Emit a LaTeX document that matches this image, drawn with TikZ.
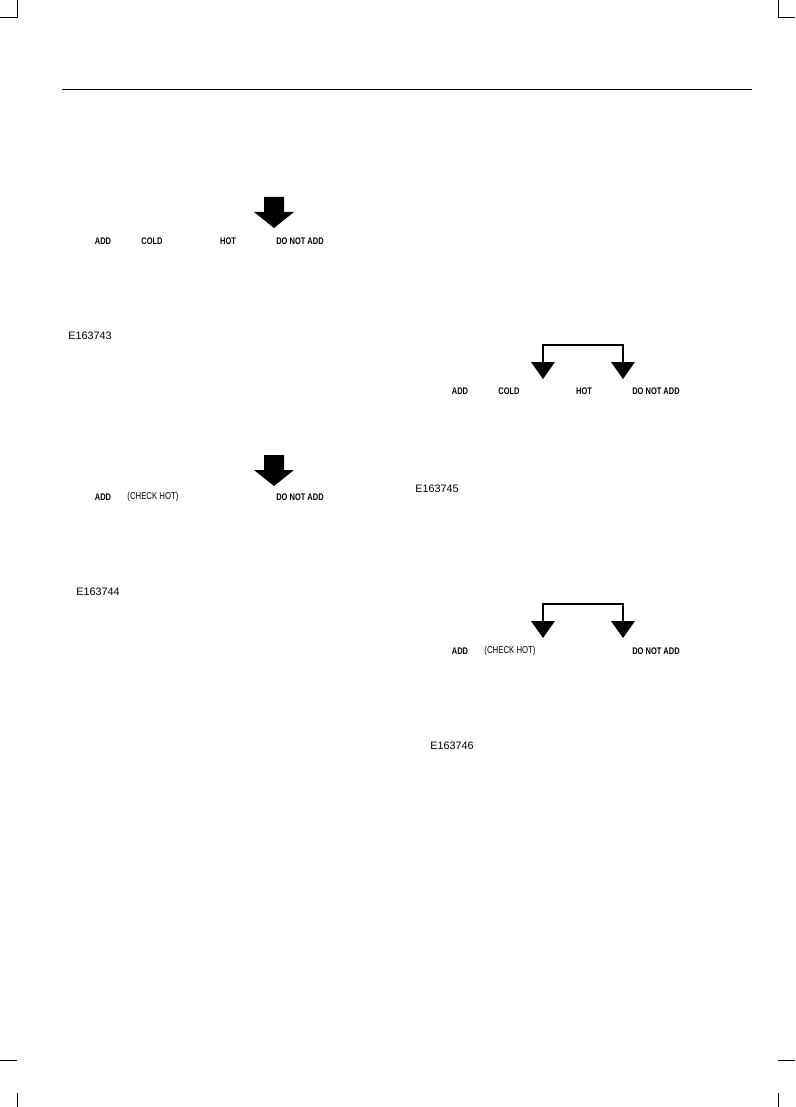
\documentclass[tikz,border=0pt]{standalone}
\usepackage{fontspec}
\setmainfont{Liberation Sans}
\newfontfamily\cond[FakeStretch=0.78]{Liberation Sans}
\tikzset{
  lbl/.style={font=\cond\bfseries\fontsize{9.6}{11}\selectfont, inner sep=0pt},
  thin lbl/.style={font=\cond\fontsize{10}{11}\selectfont, inner sep=0pt},
  code/.style={font=\fontsize{10.8}{12}\selectfont, inner sep=0pt},
  bigarrow/.style={fill=black},
  bracket/.style={line width=2.4pt},
  crop/.style={line width=0.8pt}
}
\begin{document}
\begin{tikzpicture}[x=1pt,y=-1pt]
    \useasboundingbox (0,0) rectangle (795,1107);
    % crop marks and header rule
    \draw[crop] (0,17) -- (17,17) -- (17,0);
    \draw[crop] (778,0) -- (778,17) -- (795,17);
    \draw[crop] (0,1060) -- (17,1060);
    \draw[crop] (17,1093) -- (17,1107);
    \draw[crop] (778,1060) -- (795,1060);
    \draw[crop] (778,1093) -- (778,1107);
    \draw[line width=0.8pt] (62,89) -- (752,89);
    % first picture
    \node[lbl] (add1) at (103,241) {ADD};
    \node[lbl] (cold1) at (152,241) {COLD};
    \node[lbl] (hot1) at (228,241) {HOT};
    \node[lbl] (dna1) at (300,241) {DO NOT ADD};
    \fill[bigarrow] (264,197) -- (284,197) -- (284,212) -- (294,212)
        -- (274,228) -- (254,212) -- (264,212) -- cycle;
    \node[code] (e1) at (90,336) {E163743};
    % second picture
    \node[lbl] (add2) at (103,497) {ADD};
    \node[thin lbl] (chk2) at (153,497) {(CHECK HOT)};
    \node[lbl] (dna2) at (300,497) {DO NOT ADD};
    \fill[bigarrow] (264,455) -- (284,455) -- (284,470) -- (294,470)
        -- (274,486) -- (254,470) -- (264,470) -- cycle;
    \node[code] (e2) at (98,592) {E163744};
    % third picture
    \node[lbl] (add3) at (460,391) {ADD};
    \node[lbl] (cold3) at (509,391) {COLD};
    \node[lbl] (hot3) at (584,391) {HOT};
    \node[lbl] (dna3) at (656,391) {DO NOT ADD};
    \draw[bracket] (543,363) -- (543,345) -- (623,345) -- (623,363);
    \foreach \x in {543,623}
        \fill (\x-12,362) -- (\x+12,362) -- (\x,379) -- cycle;
    \node[code] (e3) at (437,489) {E163745};
    % fourth picture
    \node[lbl] (add4) at (460,651) {ADD};
    \node[thin lbl] (chk4) at (510,651) {(CHECK HOT)};
    \node[lbl] (dna4) at (656,651) {DO NOT ADD};
    \draw[bracket] (543,622) -- (543,604) -- (623,604) -- (623,622);
    \foreach \x in {543,623}
        \fill (\x-12,621) -- (\x+12,621) -- (\x,638) -- cycle;
    \node[code] (e4) at (452,746) {E163746};
\end{tikzpicture}
\end{document}
